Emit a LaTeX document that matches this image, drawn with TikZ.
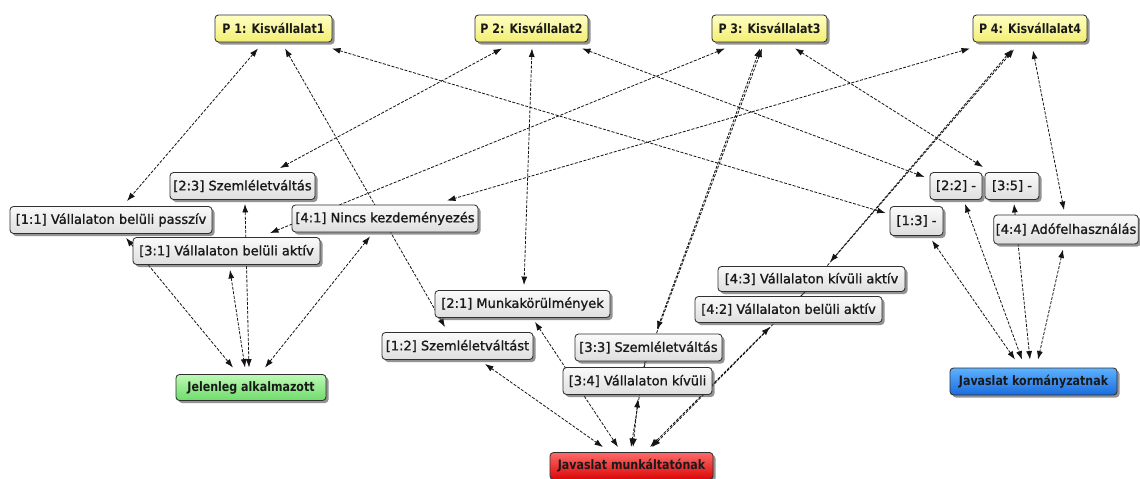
\documentclass[tikz,border=0pt]{standalone}
\usepackage{fontspec}
\setmainfont{DejaVu Sans}
\newfontfamily\hdfont{DejaVu Sans}[FakeStretch=0.85]
\newfontfamily\midfont{DejaVu Sans}[FakeBold=1.2]
\usetikzlibrary{arrows.meta,shadows}
\pgfdeclarelayer{bg}
\pgfsetlayers{bg,main}
\definecolor{ytop}{HTML}{FFFFC4}
\definecolor{ybot}{HTML}{F2EE72}
\definecolor{gtop}{HTML}{FAFAFA}
\definecolor{gbot}{HTML}{DEDEDE}
\definecolor{grtop}{HTML}{BDF9B5}
\definecolor{grbot}{HTML}{6EDC6A}
\definecolor{rtop}{HTML}{FF6A6A}
\definecolor{rbot}{HTML}{DA0606}
\definecolor{btop}{HTML}{5EB2FF}
\definecolor{bbot}{HTML}{1A6CDE}
\definecolor{edgecol}{HTML}{141414}
\definecolor{bordercol}{HTML}{303030}
\begin{document}
\begin{tikzpicture}[x=1pt,y=-1pt,
  nbox/.style={draw=bordercol,line width=0.85pt,rounded corners=3.5pt,inner xsep=2pt,inner ysep=0pt,
    minimum height=27pt,text=black!90,
    drop shadow={shadow xshift=2.5pt,shadow yshift=-2.5pt,opacity=0.6,fill=black!70}},
  pbox/.style={nbox,top color=ytop,bottom color=ybot,font=\hdfont\fontsize{13}{15}\selectfont\bfseries},
  mbox/.style={nbox,top color=gtop,bottom color=gbot,font=\midfont\fontsize{13}{15}\selectfont},
  greenbox/.style={nbox,top color=grtop,bottom color=grbot,font=\hdfont\fontsize{13}{15}\selectfont\bfseries},
  redbox/.style={nbox,top color=rtop,bottom color=rbot,font=\hdfont\fontsize{13}{15}\selectfont\bfseries},
  bluebox/.style={nbox,top color=btop,bottom color=bbot,font=\hdfont\fontsize{13}{15}\selectfont\bfseries},
  conn/.style={draw=edgecol,line width=0.8pt,dash pattern=on 3pt off 1.5pt},
  both/.style={conn,{Latex[length=8.5pt,width=6pt]}-{Latex[length=8.5pt,width=6pt]}},
  tipstart/.style={conn,{Latex[length=8.5pt,width=6pt]}-},
  tipend/.style={conn,-{Latex[length=8.5pt,width=6pt]}}
]
\useasboundingbox (0,0) rectangle (1140,479);

% top row
\node[pbox,minimum width=117pt] (p1) at (273.5,28.5) {P 1: Kisvállalat1};
\node[pbox,minimum width=113pt] (p2) at (531.5,28.5) {P 2: Kisvállalat2};
\node[pbox,minimum width=115pt] (p3) at (769.5,28.5) {P 3: Kisvállalat3};
\node[pbox,minimum width=114pt] (p4) at (1030,28.5) {P 4: Kisvállalat4};

% middle nodes
\node[mbox,minimum width=145pt] (n23) at (242.5,186) {[2:3] Szemléletváltás};
\node[mbox,minimum width=202pt] (n11) at (111,220) {[1:1] Vállalaton belüli passzív};
\node[mbox,minimum width=187pt] (n31) at (226.5,251) {[3:1] Vállalaton belüli aktív};
\node[mbox,minimum width=186pt] (n41) at (385,218.5) {[4:1] Nincs kezdeményezés};
\node[mbox,minimum width=175pt] (n21) at (522.5,304) {[2:1] Munkakörülmények};
\node[mbox,minimum width=151pt] (n12) at (457.5,346) {[1:2] Szemléletváltást};
\node[mbox,minimum width=147pt] (n33) at (648.5,347.5) {[3:3] Szemléletváltás};
\node[mbox,minimum width=149pt] (n34) at (637.5,381) {[3:4] Vállalaton kívüli};
\node[mbox,minimum width=187pt,minimum height=25pt] (n43) at (811.5,279) {[4:3] Vállalaton kívüli aktív};
\node[mbox,minimum width=187pt,minimum height=26pt] (n42) at (788.5,309.5) {[4:2] Vállalaton belüli aktív};
\node[mbox,minimum width=52pt] (n22) at (956,186) {[2:2] -};
\node[mbox,minimum width=54pt] (n35) at (1012,186) {[3:5] -};
\node[mbox,minimum width=53pt,minimum height=29pt] (n13) at (916.5,221) {[1:3] -};
\node[mbox,minimum width=143pt,minimum height=29pt] (n44) at (1066,229.5) {[4:4] Adófelhasználás};

% bottom nodes
\node[greenbox,minimum width=150pt,minimum height=26pt] (jel) at (251,387.5) {Jelenleg alkalmazott};
\node[redbox,minimum width=163pt] (red) at (631.5,466) {Javaslat munkáltatónak};
\node[bluebox,minimum width=167pt] (blue) at (1033.5,381.5) {Javaslat kormányzatnak};

\begin{pgfonlayer}{bg}
\fill[white] (0,0) rectangle (1140,479);
% P1
\draw[both] ([xshift=-15.5pt,yshift=-6pt]p1.south) -- ([xshift=16pt,yshift=5pt]n11.north);
\draw[both] ([xshift=11.5pt,yshift=-6pt]p1.south) -- ([xshift=-12.5pt,yshift=5pt]n12.north);
\draw[both] ([xshift=58.5pt,yshift=-6pt]p1.south) -- ([xshift=-4pt,yshift=8pt]n13.west);
% P2
\draw[both] ([xshift=-29.5pt,yshift=-6pt]p2.south) -- ([xshift=37.5pt,yshift=4pt]n23.north);
\draw[both] ([xshift=0.5pt,yshift=-6pt]p2.south) -- ([xshift=1.5pt,yshift=5pt]n21.north);
\draw[both] ([xshift=50.5pt,yshift=-6pt]p2.south) -- ([xshift=-5pt,yshift=9pt]n22.west);
% P3
\draw[both] ([xshift=-44.5pt,yshift=-6pt]p3.south) -- ([xshift=43.5pt,yshift=4pt]n31.north);
\draw[both] ([xshift=-9.5pt,yshift=-6pt]p3.south) -- ([xshift=8.5pt,yshift=4pt]n33.north);
\draw[tipstart] ([xshift=-7.5pt,yshift=-6pt]p3.south) -- ([xshift=6.5pt]n34.north);
\draw[both] ([xshift=25.5pt,yshift=-6pt]p3.south) -- ([xshift=-29pt,yshift=5pt]n35.north);
% P4
\draw[both] ([xshift=-60pt,yshift=-6pt]p4.south) -- ([xshift=62pt,yshift=4pt]n41.north);
\draw[both] ([xshift=-18pt,yshift=-7pt]p4.south) -- ([xshift=18.5pt,yshift=4pt]n43.north);
\draw[tipstart] ([xshift=-16pt,yshift=-7pt]p4.south) -- ([xshift=12.5pt]n42.north);
\draw[both] ([xshift=3pt,yshift=-8pt]p4.south) -- ([xshift=-2pt,yshift=4.5pt]n44.north);
% to Jelenleg alkalmazott
\draw[both] ([xshift=15pt,yshift=-4pt]n11.south) -- ([xshift=-18pt,yshift=6.5pt]jel.north);
\draw[both] ([xshift=3.5pt,yshift=-5pt]n31.south) -- ([xshift=-6pt,yshift=6.5pt]jel.north);
\draw[both] ([xshift=2.5pt,yshift=-4pt]n23.south) -- ([xshift=-2pt,yshift=6.5pt]jel.north);
\draw[both] ([xshift=-15pt,yshift=-4pt]n41.south) -- ([xshift=14pt,yshift=6.5pt]jel.north);
% to Javaslat munkaltatonak
\draw[both] ([xshift=27.5pt,yshift=-4pt]n12.south) -- ([xshift=-28.5pt,yshift=5pt]red.north);
\draw[both] ([xshift=12.5pt,yshift=-4pt]n21.south) -- ([xshift=-13.5pt,yshift=5pt]red.north);
\draw[both] ([xshift=0.5pt,yshift=-4pt]n34.south) -- ([xshift=1.5pt,yshift=5pt]red.north);
\draw[tipend] ([xshift=-3.5pt]n33.south) -- ([xshift=-0.5pt,yshift=5pt]red.north);
\draw[both] ([xshift=-18.5pt,yshift=-4pt]n42.south) -- ([xshift=18.5pt,yshift=5pt]red.north);
\draw[tipend] ([xshift=-6.5pt]n43.south) -- ([xshift=20.5pt,yshift=5pt]red.north);
% to Javaslat kormanyzatnak
\draw[both] ([xshift=15.5pt,yshift=-4.5pt]n13.south) -- ([xshift=-18.5pt,yshift=8pt]blue.north);
\draw[both] ([xshift=9pt,yshift=-4pt]n22.south) -- ([xshift=-11.5pt,yshift=8pt]blue.north);
\draw[both] ([xshift=2pt,yshift=-4pt]n35.south) -- ([xshift=-3.5pt,yshift=8pt]blue.north);
\draw[both] ([xshift=-3pt,yshift=-5pt]n44.south) -- ([xshift=4.5pt,yshift=8pt]blue.north);
\end{pgfonlayer}
\end{tikzpicture}
\end{document}
